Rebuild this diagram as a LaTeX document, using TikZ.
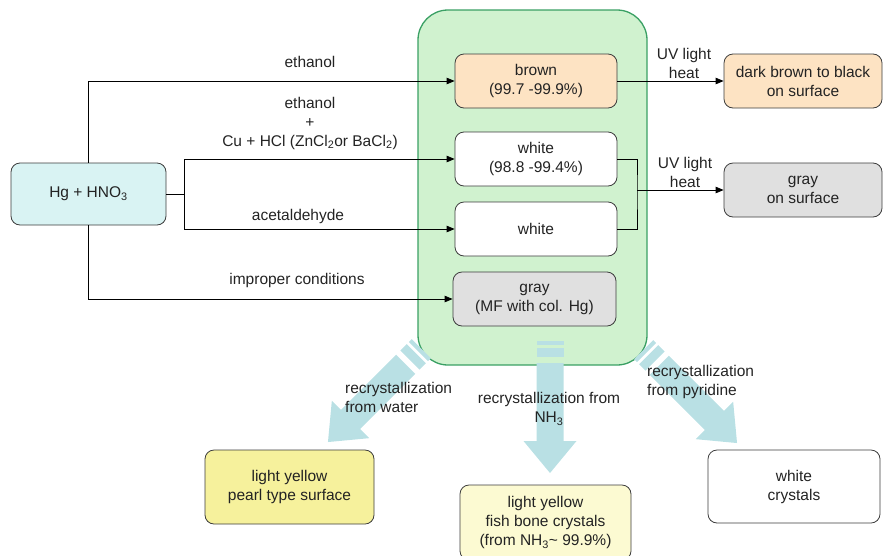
\documentclass[tikz,border=0pt]{standalone}
\usepackage{fontspec}
\setmainfont{Liberation Sans}
\usetikzlibrary{arrows.meta}
\definecolor{boxline}{RGB}{60,60,60}
\definecolor{cyanfill}{RGB}{217,243,243}
\definecolor{brownfill}{RGB}{253,227,195}
\definecolor{grayfill}{RGB}{224,224,224}
\definecolor{greenfill}{RGB}{208,242,207}
\definecolor{greenline}{RGB}{58,160,100}
\definecolor{yellowA}{RGB}{246,241,156}
\definecolor{yellowB}{RGB}{252,250,210}
\definecolor{arrowblue}{RGB}{185,224,228}
\definecolor{txt}{RGB}{35,35,35}
\newcommand\stripedarrow[3]{%
 \begin{scope}[shift={(#1,#2)},rotate=#3]
  \fill[arrowblue] (-13.5,0) rectangle (13.5,4);
  \fill[arrowblue] (-13.5,7) rectangle (13.5,16);
  \fill[arrowblue] (-13.5,22) -- (13.5,22) -- (13.5,100) -- (26.5,100) -- (0,132) -- (-26.5,100) -- (-13.5,100) -- cycle;
 \end{scope}}
\begin{document}
\begin{tikzpicture}[x=1pt,y=-1pt,
  every node/.style={font=\fontsize{15.5}{19}\selectfont, text=txt},
  box/.style={draw=boxline, line width=0.8pt, rounded corners=9pt, align=center, inner sep=0pt},
  conn/.style={draw=black, line width=0.8pt},
  arr/.style={conn, -{Triangle[length=8pt,width=6.5pt]}},
  lbl/.style={align=center, inner sep=0pt}]
\useasboundingbox (0,0) rectangle (883,555);

% container
\node[draw=greenline, fill=greenfill, line width=1.3pt, rounded corners=30pt,
      minimum width=229pt, minimum height=355pt, inner sep=0pt] (cont) at (532.5,187.5) {};

% boxes
\node[box, fill=cyanfill, minimum width=155pt, minimum height=62pt] (hg) at (88.5,194) {Hg + HNO\textsubscript{3}};
\node[box, fill=brownfill, minimum width=162pt, minimum height=54pt] (brown) at (536,81) {brown\\(99.7 -99.9\%)};
\node[box, fill=white, minimum width=162pt, minimum height=54pt] (w1) at (536,159) {white\\(98.8 -99.4\%)};
\node[box, fill=white, minimum width=162pt, minimum height=54pt] (w2) at (536,229) {white};
\node[box, fill=grayfill, minimum width=163pt, minimum height=54pt] (gray) at (534.5,299) {gray\\(MF with col. Hg)};
\node[box, fill=brownfill, minimum width=158pt, minimum height=54pt] (dk) at (803,81) {dark brown to black\\on surface};
\node[box, fill=grayfill, minimum width=158pt, minimum height=54pt] (gs) at (803,190) {gray\\on surface};
\node[box, fill=yellowA, minimum width=169pt, minimum height=74pt] (pearl) at (289.5,487) {light yellow\\pearl type surface};
\node[box, fill=yellowB, minimum width=171pt, minimum height=75pt] (fish) at (545.5,522.5) {light yellow\\fish bone crystals\\(from NH\textsubscript{3}\textasciitilde{} 99.9\%)};
\node[box, fill=white, minimum width=172pt, minimum height=73pt] (wc) at (794,486.5) {white\\crystals};

% connectors
\coordinate (j) at (184,194);
\coordinate (k) at (637,190);
\draw[arr] (hg.north) |- (brown.west);
\draw[conn] (hg.east) -- (j);
\draw[arr] (j) |- (w1.west);
\draw[arr] (j) |- (w2.west);
\draw[arr] (hg.south) |- (gray.west);
\draw[arr] (brown.east) -- (dk.west);
\draw[conn] (w1.east) -| (k) |- (w2.east);
\draw[arr] (k) -- (gs.west);

% labels
\node[lbl] (l1) at (310,62) {ethanol};
\node[lbl, align=center] (l2) at (310,123) {ethanol\\+\\Cu + HCl (ZnCl\textsubscript{2}or BaCl\textsubscript{2})};
\node[lbl] (l3) at (298,216) {acetaldehyde};
\node[lbl] (l4) at (297,280) {improper conditions};
\node[lbl] (l5) at (684,63) {UV light\\heat};
\node[lbl] (l6) at (685,172) {UV light\\heat};

% big arrows
\stripedarrow{421.3}{348.7}{-45}
\stripedarrow{550}{341}{0}
\stripedarrow{643.7}{349.7}{45}

\node[lbl, align=left, anchor=west] (r1) at (345,397) {recrystallization\\from water};
\node[lbl] (r2) at (549,409) {recrystallization from\\NH\textsubscript{3}};
\node[lbl, align=left, anchor=west] (r3) at (647,382) {recrystallization\\from pyridine};
\end{tikzpicture}
\end{document}
